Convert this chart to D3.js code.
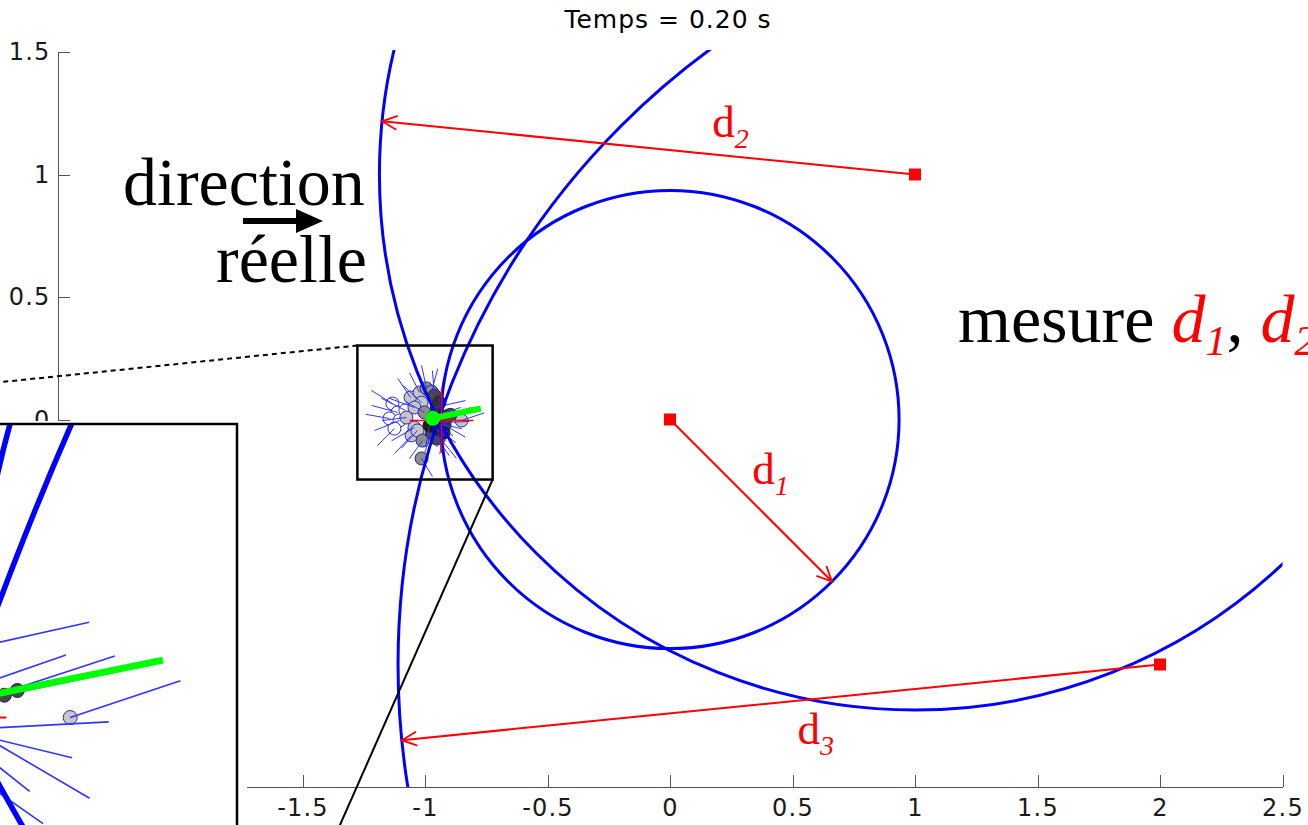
<!DOCTYPE html>
<meta charset="utf-8">
<style>
body { margin: 0; background: #fff; }
svg { display: block; background: #fff; }
.axis text { font: 24px "DejaVu Sans", sans-serif; letter-spacing: 1.2px; fill: #1a1a1a; }
.axis line,
.axis path { fill: none; stroke: #555; shape-rendering: crispEdges; }
.serif { font-family: "Liberation Serif", serif; }
</style>
<body>
<div id="chart"></div>
<script src="https://d3js.org/d3.v7.min.js"></script>
<script>
// beacons (red squares) and the measured ranges d1, d2, d3
var beaconX = [0, 1, 2];
var beaconY = [0, 1, -1];
var ranges = [0.935, 2.186, 3.11];
var arrowAngle = [-45, 174.3, 185.7];
var rangeNames = ["1", "2", "3"];
var labelX = [0.336, 0.172, 0.52];
var labelY = [-0.263, 1.153, -1.324];

var xTicks = [-2.5, -2, -1.5, -1, -0.5, 0, 0.5, 1, 1.5, 2, 2.5];
var yTicks = [-1.5, -1, -0.5, 0, 0.5, 1, 1.5];

// particles: position, heading (deg), heading line length, weight
var partX = [-1.133, -1.112, -1.145, -1.104, -1.125, -1.080, -1.059, -1.022, -1.014, -1.043,
             -1.076, -1.043, -1.055, -1.031, -0.851, -0.994, -0.973, -1.010, -1.014, -0.941,
             -1.002, -0.961, -0.973, -0.953, -0.920, -0.941, -0.952, -0.968, -0.927, -0.938,
             -0.966, -0.938, -0.956, -0.956, -0.907, -0.896, -0.949, -0.924, -0.982];
var partY = [0.065, 0.029, 0.004, -0.004, -0.037, 0.037, 0.090, 0.110, 0.069, 0.049,
             0.008, -0.033, -0.065, -0.045, -0.004, 0.127, 0.114, -0.086, -0.159, -0.073,
             0.029, 0.098, -0.053, -0.078, -0.024, 0.069, 0.051, 0.010, 0.011, -0.014,
             -0.010, -0.012, -0.011, -0.037, 0.015, 0.019, -0.037, -0.053, -0.024];
var partHead = [148, 165, 170, 202, 225, 153, 124, 117, 137, 160,
                187, 210, 227, 228, 18.5, 102, 75, 234, 301, 309,
                150, 95, 251, 307, 250, 80, 12.6, 19.1, 18.2, 3,
                346.4, 329.6, 321.6, 325, 12, 12, 280, 260, 260];
var partLen = [0.101, 0.110, 0.099, 0.110, 0.098, 0.110, 0.094, 0.091, 0.101, 0.109,
               0.099, 0.108, 0.101, 0.098, 0.099, 0.096, 0.097, 0.091, 0.086, 0.110,
               0.090, 0.102, 0.086, 0.087, 0.094, 0.100, 0.120, 0.120, 0.120, 0.120,
               0.120, 0.120, 0.090, 0.100, 0.080, 0.080, 0.100, 0.090, 0.090];
var partW = [0, 0, 0, 0, 0, 0, 0.25, 0.25, 0.25, 0.25,
             0.25, 0.25, 0.25, 0.25, 0.25, 0.5, 0.5, 0.5, 0.5, 0.5,
             0.5, 0.8, 0.8, 0.8, 0.9, 0.9, 0.9, 0.9, 0.9, 0.9,
             0.9, 0.9, 0.9, 0.9, 0.8, 0.8, 1, 1, 1];

var truePos = [-0.9325, -0.004];
var estPos = [-0.968, 0.005];
var estHead = 11.5, estLen = 0.2;

// zoom rectangle and the part of the plane shown in the enlarged view
var boxX = [-1.276, -0.724], boxY = [-0.245, 0.302];
var insetX = [-1.258, -0.709], insetY = [-0.294, 0.246];

var width = 1308, height = 825;
var svg = d3.select("#chart").append("svg")
    .attr("width", width)
    .attr("height", height);
var defs = svg.append("defs");

var x = d3.scaleLinear().domain([-2.5, 2.5]).range([57.5, 1282.5]);
var y = d3.scaleLinear().domain([-1.5, 1.5]).range([787, 52]);
var xi = d3.scaleLinear().domain(insetX).range([-408, 237]);
var yi = d3.scaleLinear().domain(insetY).range([1058, 424]);

var grey = d3.interpolateRgb("#ffffff", "#1c1c1c");
var edge = d3.interpolateRgb("#3030e0", "#202020");
var rad = Math.PI / 180;

defs.append("clipPath").attr("id", "clipMain").append("rect")
    .attr("x", x(-2.5)).attr("y", y(1.5) - 2)
    .attr("width", x(2.5) - x(-2.5)).attr("height", y(-1.5) - y(1.5) + 2);
defs.append("clipPath").attr("id", "clipInset").append("rect")
    .attr("x", xi(insetX[0])).attr("y", yi(insetY[1]))
    .attr("width", xi(insetX[1]) - xi(insetX[0])).attr("height", yi(insetY[0]) - yi(insetY[1]));
defs.append("marker")
    .attr("id", "head")
    .attr("viewBox", "-18 -10 20 20")
    .attr("refX", 0).attr("refY", 0)
    .attr("markerWidth", 20).attr("markerHeight", 20)
    .attr("markerUnits", "userSpaceOnUse")
    .attr("orient", "auto")
  .append("path")
    .attr("d", "M-15,-7L0,0L-15,7")
    .attr("fill", "none")
    .attr("stroke", "#ff0000")
    .attr("stroke-width", 1.8);

// axes
svg.append("g")
    .attr("class", "axis")
    .attr("transform", "translate(0," + y(-1.5) + ")")
    .call(d3.axisBottom(x).tickValues(xTicks).tickSize(-12).tickSizeOuter(0).tickPadding(12).tickFormat(String));
svg.append("g")
    .attr("class", "axis")
    .attr("transform", "translate(" + x(-2.5) + ",0)")
    .call(d3.axisLeft(y).tickValues(yTicks).tickSize(-12).tickSizeOuter(0).tickPadding(7).tickFormat(String));

function drawScene(g, sx, sy, s) {
  var idx = d3.range(partX.length);
  g.selectAll(".pc").data(idx).enter().append("circle")
      .attr("cx", function(i) { return sx(partX[i]); })
      .attr("cy", function(i) { return sy(partY[i]); })
      .attr("r", s.dot)
      .attr("fill", function(i) { return grey(partW[i]); })
      .attr("stroke", function(i) { return edge(partW[i]); })
      .attr("stroke-width", 1);
  g.selectAll(".pl").data(idx).enter().append("line")
      .attr("x1", function(i) { return sx(partX[i]); })
      .attr("y1", function(i) { return sy(partY[i]); })
      .attr("x2", function(i) { return sx(partX[i] + partLen[i] * Math.cos(partHead[i] * rad)); })
      .attr("y2", function(i) { return sy(partY[i] + partLen[i] * Math.sin(partHead[i] * rad)); })
      .attr("stroke", "#3333ff")
      .attr("stroke-width", s.thin);
  g.selectAll(".rc").data(beaconX).enter().append("circle")
      .attr("cx", function(d, i) { return sx(beaconX[i]); })
      .attr("cy", function(d, i) { return sy(beaconY[i]); })
      .attr("r", function(d, i) { return sx(ranges[i]) - sx(0); })
      .attr("fill", "none")
      .attr("stroke", "#0000ff")
      .attr("stroke-width", s.arc);
  var tx = sx(truePos[0]), ty = sy(truePos[1]);
  g.append("path")
      .attr("d", "M" + (tx - s.cross) + "," + ty + "H" + (tx + s.cross) + "M" + tx + "," + (ty - s.cross) + "V" + (ty + s.cross))
      .attr("stroke", "#ff0000")
      .attr("stroke-width", s.red);
  g.append("line")
      .attr("x1", sx(estPos[0])).attr("y1", sy(estPos[1]))
      .attr("x2", sx(estPos[0] + estLen * Math.cos(estHead * rad)))
      .attr("y2", sy(estPos[1] + estLen * Math.sin(estHead * rad)))
      .attr("stroke", "#00ff00")
      .attr("stroke-width", s.green);
  g.append("circle")
      .attr("cx", sx(estPos[0])).attr("cy", sy(estPos[1]))
      .attr("r", s.greenDot)
      .attr("fill", "#00ff00");
}

var main = svg.append("g").attr("clip-path", "url(#clipMain)");
drawScene(main, x, y, {dot: 6.5, thin: 1, arc: 3, cross: 32, red: 1.5, green: 6, greenDot: 7.5});

// measured ranges
beaconX.forEach(function(bx, i) {
  var a = arrowAngle[i] * rad;
  svg.append("line")
      .attr("x1", x(bx)).attr("y1", y(beaconY[i]))
      .attr("x2", x(bx + ranges[i] * Math.cos(a)))
      .attr("y2", y(beaconY[i] + ranges[i] * Math.sin(a)))
      .attr("stroke", "#ff0000")
      .attr("stroke-width", 2)
      .attr("marker-end", "url(#head)");
  svg.append("rect")
      .attr("x", x(bx) - 6).attr("y", y(beaconY[i]) - 6)
      .attr("width", 12).attr("height", 12)
      .attr("fill", "#ff0000");
  var t = svg.append("text")
      .attr("class", "serif")
      .attr("x", x(labelX[i])).attr("y", y(labelY[i]))
      .attr("fill", "#ff0000")
      .attr("font-size", 45);
  t.append("tspan").text("d");
  t.append("tspan").attr("font-size", 28).attr("font-style", "italic").attr("dy", 11).text(rangeNames[i]);
});

// zoom rectangle and connectors to the enlarged view
svg.append("rect")
    .attr("x", x(boxX[0])).attr("y", y(boxY[1]))
    .attr("width", x(boxX[1]) - x(boxX[0])).attr("height", y(boxY[0]) - y(boxY[1]))
    .attr("fill", "none").attr("stroke", "#000").attr("stroke-width", 2.5);
svg.append("line")
    .attr("x1", x(boxX[0])).attr("y1", y(boxY[1]))
    .attr("x2", xi(insetX[0])).attr("y2", yi(insetY[1]))
    .attr("stroke", "#000").attr("stroke-width", 2).attr("stroke-dasharray", "5,4");
svg.append("line")
    .attr("x1", x(boxX[1])).attr("y1", y(boxY[0]))
    .attr("x2", xi(insetX[1])).attr("y2", yi(insetY[0]))
    .attr("stroke", "#000").attr("stroke-width", 2);

// enlarged view
svg.append("rect")
    .attr("x", xi(insetX[0]) - 12).attr("y", yi(insetY[1]) - 3)
    .attr("width", xi(insetX[1]) - xi(insetX[0]) + 22).attr("height", yi(insetY[0]) - yi(insetY[1]) + 14)
    .attr("fill", "#fff");
var inset = svg.append("g").attr("clip-path", "url(#clipInset)");
drawScene(inset, xi, yi, {dot: 7, thin: 1.6, arc: 5.5, cross: 32, red: 2, green: 7, greenDot: 8});
svg.append("rect")
    .attr("x", xi(insetX[0])).attr("y", yi(insetY[1]))
    .attr("width", xi(insetX[1]) - xi(insetX[0])).attr("height", yi(insetY[0]) - yi(insetY[1]))
    .attr("fill", "none").attr("stroke", "#000").attr("stroke-width", 2.5);

// texts
svg.append("text")
    .attr("x", 668).attr("y", 28)
    .attr("text-anchor", "middle")
    .style("font", "25px 'DejaVu Sans', sans-serif")
    .style("letter-spacing", "1px")
    .text("Temps = 0.20 s");

svg.append("text").attr("class", "serif")
    .attr("x", 123).attr("y", 205).attr("font-size", 68)
    .text("direction");
svg.append("text").attr("class", "serif")
    .attr("x", 367).attr("y", 282).attr("font-size", 68)
    .attr("text-anchor", "end")
    .text("réelle");
svg.append("line")
    .attr("x1", 243).attr("y1", 221).attr("x2", 300).attr("y2", 221)
    .attr("stroke", "#000").attr("stroke-width", 6);
svg.append("path")
    .attr("d", "M296,209L323,221L296,233Z")
    .attr("fill", "#000");

var m = svg.append("text").attr("class", "serif")
    .attr("x", 958).attr("y", 342).attr("font-size", 68);
m.append("tspan").text("mesure ");
m.append("tspan").attr("fill", "#ff0000").attr("font-style", "italic").text("d");
m.append("tspan").attr("fill", "#ff0000").attr("font-style", "italic").attr("font-size", 42).attr("dy", 13).text("1");
m.append("tspan").attr("dy", -13).text(", ");
m.append("tspan").attr("fill", "#ff0000").attr("font-style", "italic").text("d");
m.append("tspan").attr("fill", "#ff0000").attr("font-style", "italic").attr("font-size", 42).attr("dy", 13).text("2");
</script>
